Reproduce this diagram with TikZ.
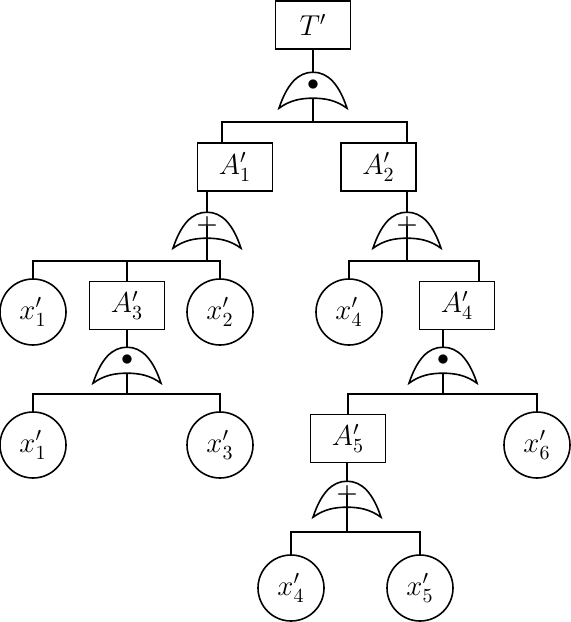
\documentclass[tikz,border=0pt]{standalone}
\usepackage{amsmath,amssymb}
\usepackage{tikz}
\usetikzlibrary{shapes.geometric, arrows, positioning, calc}

\begin{document}
\begin{tikzpicture}[x=0.5pt, y=-0.5pt, line width=0.8pt, font=\fontsize{14}{16}\selectfont]
        \tikzstyle{event} = [rectangle, draw=black, minimum width=37.5pt, minimum height=24pt, inner sep=0pt, text centered]
        \tikzstyle{basic} = [circle, draw=black, minimum size=33pt, inner sep=0pt]
        \tikzstyle{gate} = [rectangle, minimum width=34pt, minimum height=12.5pt, inner sep=0pt, font=\fontsize{13}{13}\selectfont]
        \tikzstyle{andgate} = [gate, font=\fontsize{13}{13}\selectfont]

        \useasboundingbox (0,0) rectangle (571,622);

        % Top event
        \node (top) [event] at (313,25) {$T'$};
        \node (g0) [andgate] at (313,85.5) {$\bullet$};
        \coordinate (j0) at (313,122);

        % Left branch
        \node (a1) [event] at (235,167) {$A'_1$};
        \node (g1) [gate] at (207,225.5) {$\boldsymbol{+}$};
        \coordinate (j1) at (207,261);
        \node (x1a) [basic] at (33,312) {$x'_1$};
        \node (a3) [event] at (127,305.5) {$A'_3$};
        \node (x2) [basic] at (220,312) {$x'_2$};
        \node (g3) [andgate] at (127,360.5) {$\bullet$};
        \coordinate (j3) at (127,394);
        \node (x1b) [basic] at (33,445) {$x'_1$};
        \node (x3) [basic] at (220,445) {$x'_3$};

        % Right branch
        \node (a2) [event] at (378.5,167) {$A'_2$};
        \node (g2) [gate] at (407,225.5) {$\boldsymbol{+}$};
        \coordinate (j2) at (407,261);
        \node (x4a) [basic] at (349,312) {$x'_4$};
        \node (a4) [event] at (457,305.5) {$A'_4$};
        \node (g4) [andgate] at (443,360.5) {$\bullet$};
        \coordinate (j4) at (443,394);
        \node (a5) [event] at (348,438.5) {$A'_5$};
        \node (x6) [basic] at (537,445) {$x'_6$};
        \node (g5) [gate] at (347,494.5) {$\boldsymbol{+}$};
        \coordinate (j5) at (347,532);
        \node (x4b) [basic] at (291,588) {$x'_4$};
        \node (x5) [basic] at (420,588) {$x'_5$};

        % Gate outlines
        \foreach \g in {g0,g1,g2,g3,g4,g5}
          \draw (\g.north) .. controls +(-15,0) and +(8,-24) .. ($(\g.north)+(-34,36)$)
            .. controls +(11,-8) and +(-12,0) .. ($(\g.north)+(0,26)$)
            .. controls +(12,0) and +(-11,-8) .. ($(\g.north)+(34,36)$)
            .. controls +(-8,-24) and +(15,0) .. (\g.north);

        % Connectors
        \draw (top) -- (g0);
        \draw (g0.south) -- (j0);
        \draw (j0) -| ([xshift=-6.5pt]a1.north);
        \draw (j0) -| (a2.north -| g2);

        \draw (a1.south -| g1) -- (g1.north);
        \draw (g1.center) -- (j1);
        \draw (j1) -| (x1a.north);
        \draw (j1) -| (a3.north);
        \draw (j1) -| (x2.north);
        \draw (a3.south -| g3) -- (g3.north);
        \draw (g3.south) -- (j3);
        \draw (j3) -| (x1b.north);
        \draw (j3) -| (x3.north);

        \draw (a2.south -| g2) -- (g2.north);
        \draw (g2.center) -- (j2);
        \draw (j2) -| (x4a.north);
        \draw (j2) -| ([xshift=11pt]a4.north);
        \draw (a4.south -| g4) -- (g4.north);
        \draw (g4.south) -- (j4);
        \draw (j4) -| (a5.north);
        \draw (j4) -| (x6.north);
        \draw (a5.south -| g5) -- (g5.north);
        \draw (g5.center) -- (j5);
        \draw (j5) -| (x4b.north);
        \draw (j5) -| (x5.north);
    \end{tikzpicture}
\end{document}
